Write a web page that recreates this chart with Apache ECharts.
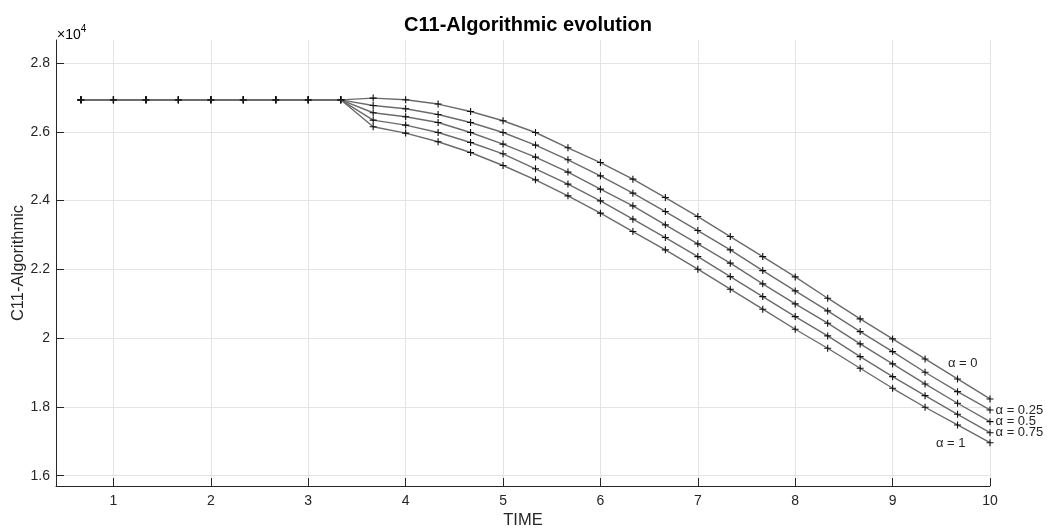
<!DOCTYPE html>
<html>
<head>
<meta charset="utf-8">
<script src="https://cdn.jsdelivr.net/npm/echarts@6/dist/echarts.min.js"></script>
<style>
html,body{margin:0;padding:0;background:#fff;}
#chart{width:1047px;height:532px;}
</style>
</head>
<body>
<div id="chart"></div>
<script>
// Time steps (every 1/3)
const flatTimes = [2/3, 1, 4/3, 5/3, 2, 7/3, 8/3, 3, 10/3];
const flatValues = [26930, 26930, 26930, 26930, 26930, 26930, 26930, 26930, 26930];
const branchTimes = [11/3, 4, 13/3, 14/3, 5, 16/3, 17/3, 6, 19/3, 20/3, 7, 22/3, 23/3, 8, 25/3, 26/3, 9, 28/3, 29/3, 10];

const seriesNames = ['α = 0', 'α = 0.25', 'α = 0.5', 'α = 0.75', 'α = 1'];
const alpha0 = [26981, 26932, 26807, 26592, 26321, 25980, 25535, 25107, 24624, 24089, 23536, 22954, 22372, 21781, 21161, 20559, 19977, 19395, 18813, 18231];
const alpha025 = [26766, 26670, 26504, 26271, 25980, 25614, 25186, 24720, 24217, 23682, 23129, 22567, 21965, 21374, 20792, 20190, 19608, 19008, 18444, 17911];
const alpha05 = [26554, 26437, 26271, 25980, 25643, 25265, 24828, 24333, 23847, 23295, 22742, 22180, 21578, 20996, 20434, 19832, 19250, 18668, 18106, 17571];
const alpha075 = [26341, 26196, 25980, 25689, 25361, 24924, 24479, 23993, 23460, 22925, 22372, 21790, 21208, 20626, 20064, 19462, 18880, 18327, 17786, 17250];
const alpha1 = [26146, 25963, 25710, 25398, 25020, 24604, 24138, 23635, 23100, 22567, 22005, 21423, 20841, 20259, 19706, 19124, 18542, 17990, 17475, 16959];
const branches = [alpha0, alpha025, alpha05, alpha075, alpha1];

const xTickLabels = ['1','2','3','4','5','6','7','8','9','10'];
const yTickLabels = ['1.6','1.8','2','2.2','2.4','2.6','2.8'];

const font = '"Liberation Sans", Arial, Helvetica, sans-serif';
const plusPath = 'path://M-1,-0.16H1V0.16H-1ZM-0.16,-1H0.16V1H-0.16Z';

// label placement per series (position, offset)
const labelPlace = [
  {position: 'left', offset: [-4, -36]},
  {position: 'right', offset: [-3, 0]},
  {position: 'right', offset: [-3, 0]},
  {position: 'right', offset: [-3, 0]},
  {position: 'left', offset: [-16, 1]}
];

const series = branches.map((vals, si) => {
  const data = flatTimes.map((t, i) => [t, flatValues[i]]);
  vals.forEach((v, i) => {
    const item = [branchTimes[i], v];
    if (i === vals.length - 1) {
      data.push({
        value: item,
        label: {
          show: true,
          formatter: seriesNames[si],
          position: labelPlace[si].position,
          offset: labelPlace[si].offset,
          distance: 5,
          color: '#262626',
          fontSize: 13,
          fontFamily: font
        }
      });
    } else {
      data.push(item);
    }
  });
  return {
    name: seriesNames[si],
    type: 'line',
    data: data,
    symbol: plusPath,
    symbolSize: 7,
    showAllSymbol: true,
    lineStyle: {color: '#6b6b6b', width: 1.4},
    itemStyle: {color: '#111'},
    label: {show: false},
    emphasis: {disabled: true},
    z: 3 + si,
    animation: false
  };
});

const chart = echarts.init(document.getElementById('chart'), null, {renderer: 'canvas'});
chart.setOption({
  backgroundColor: '#fff',
  animation: false,
  title: {
    text: 'C11-Algorithmic evolution',
    left: 523, top: 10,
    textAlign: 'center',
    textStyle: {fontFamily: font, fontSize: 20, fontWeight: 'bold', color: '#000'}
  },
  grid: {left: 56, right: 57, top: 40, bottom: 46, containLabel: false, outerBoundsMode: 'none'},
  xAxis: {
    type: 'value',
    min: 0.41, max: 10,
    splitNumber: 10,
    name: 'TIME',
    nameLocation: 'middle',
    nameGap: 26,
    nameMoveOverlap: false,
    nameTextStyle: {fontFamily: font, fontSize: 16.5, color: '#262626'},
    axisLine: {show: true, lineStyle: {color: '#262626', width: 1}},
    axisTick: {show: true, inside: true, length: 8, lineStyle: {color: '#262626'}},
    axisLabel: {
      fontFamily: font, fontSize: 14, color: '#262626', margin: 8,
      showMinLabel: false,
      formatter: v => xTickLabels.indexOf(String(v)) >= 0 ? String(v) : ''
    },
    splitLine: {show: true, showMinLine: false, lineStyle: {color: '#e4e4e4', width: 1}}
  },
  yAxis: {
    type: 'value',
    min: 15700, max: 28670,
    splitNumber: 6,
    name: 'C11-Algorithmic',
    nameLocation: 'middle',
    nameGap: 29,
    nameMoveOverlap: false,
    nameTextStyle: {fontFamily: font, fontSize: 16.5, color: '#262626'},
    axisLine: {show: true, lineStyle: {color: '#262626', width: 1}},
    axisTick: {show: true, inside: true, length: 8, lineStyle: {color: '#262626'}},
    axisLabel: {
      fontFamily: font, fontSize: 14, color: '#262626', margin: 6,
      showMinLabel: false, showMaxLabel: false,
      formatter: v => {
        const s = String(Math.round(v / 1000) / 10);
        return yTickLabels.indexOf(s) >= 0 ? s : '';
      }
    },
    splitLine: {show: true, showMinLine: false, showMaxLine: false, lineStyle: {color: '#e4e4e4', width: 1}}
  },
  graphic: [{
    type: 'text',
    left: 57, top: 24,
    style: {
      text: '{a|×10}{b|4}',
      rich: {
        a: {fontFamily: font, fontSize: 14, color: '#4d4d4d', verticalAlign: 'bottom'},
        b: {fontFamily: font, fontSize: 10, color: '#4d4d4d', verticalAlign: 'top', padding: [0, 0, 8, 0]}
      }
    }
  }],
  series: series
});
</script>
</body>
</html>
